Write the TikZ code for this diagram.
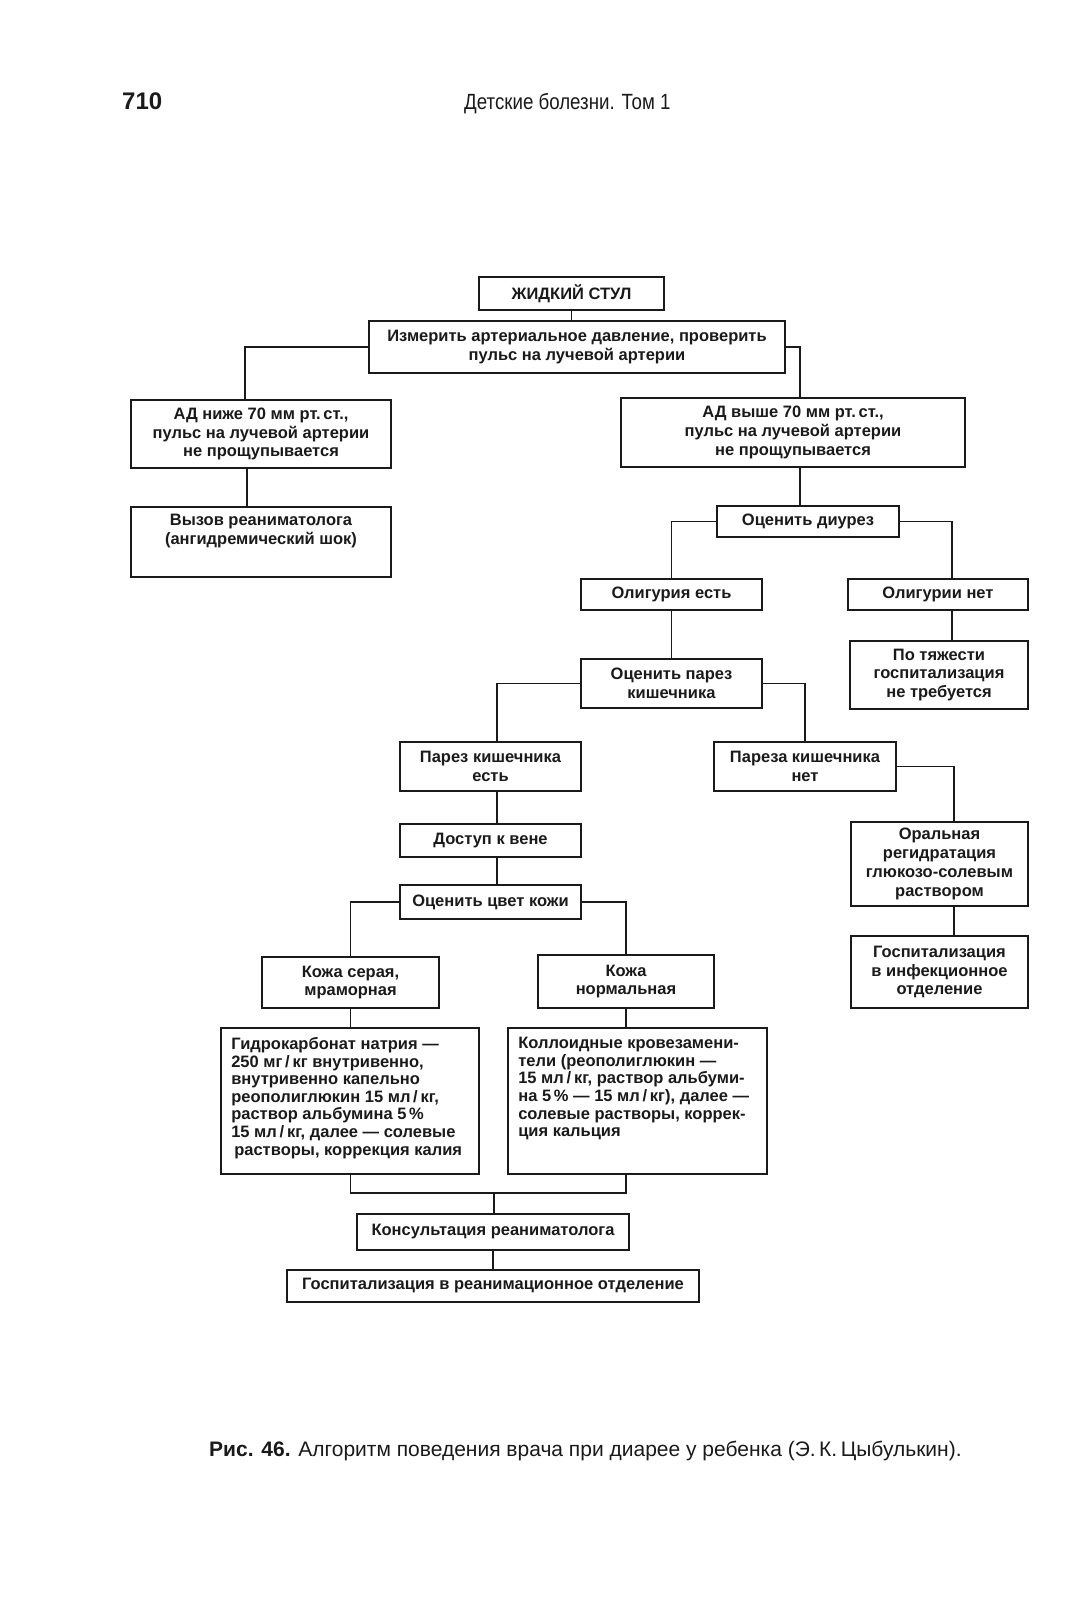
\documentclass[tikz,border=0pt]{standalone}
\usepackage{fontspec}
\setmainfont{Liberation Sans}
\newfontfamily\hdrfont[FakeStretch=0.85]{Liberation Sans}
\usetikzlibrary{calc}
\definecolor{ink}{HTML}{1A1A1A}
\tikzset{
  box/.style={draw=ink, line width=1.8pt, inner sep=0pt, align=center, text=ink,
    font=\fontsize{16.5}{18.8}\selectfont\bfseries},
  txt/.style={inner sep=0pt, text=ink, font=\fontsize{16.5}{18.8}\selectfont\bfseries},
  wire/.style={draw=ink, line width=1.6pt}
}
\newcommand{\flowbox}[6]{%
  \node[box, minimum width={#4-#2}, minimum height={#5-#3}] (#1) at ({(#2+#4)/2},{(#3+#5)/2}) {#6};}
\begin{document}
\begin{tikzpicture}[x=1pt,y=-1pt]
\useasboundingbox[fill=white] (0,0) rectangle (1070,1600);
% header
\node[anchor=base west, inner sep=0pt, text=ink, font=\fontsize{24}{28}\selectfont\bfseries] (pg) at (122,110) {710};
\node[anchor=base west, inner sep=0pt, text=ink, font=\hdrfont\fontsize{22}{26}\selectfont] (ttl) at (464,110) {Детские болезни. Том 1};
% boxes
\flowbox{A}{479}{277}{664}{310}{ЖИДКИЙ СТУЛ}
\flowbox{B}{369}{321}{785}{373}{Измерить артериальное давление, проверить\\пульс на лучевой артерии}
\flowbox{C}{131}{400}{391}{468}{АД ниже 70 мм рт.\,ст.,\\пульс на лучевой артерии\\не прощупывается}
\flowbox{D}{621}{398}{965}{467}{АД выше 70 мм рт.\,ст.,\\пульс на лучевой артерии\\не прощупывается}
\flowbox{E}{131}{507}{391}{577}{}
\node[txt, anchor=north, align=center] (Et) at ($(E.north)+(0,8)$) {Вызов реаниматолога\\(ангидремический шок)};
\flowbox{F}{717}{506}{899}{537}{Оценить диурез}
\flowbox{G}{581}{579}{762}{610}{Олигурия есть}
\flowbox{H}{848}{579}{1028}{610}{Олигурии нет}
\flowbox{I}{850}{641}{1028}{709}{По тяжести\\госпитализация\\не требуется}
\flowbox{J}{581}{659}{762}{708}{Оценить парез\\кишечника}
\flowbox{K}{400}{742}{581}{791}{Парез кишечника\\есть}
\flowbox{L}{714}{742}{896}{791}{Пареза кишечника\\нет}
\flowbox{M}{851}{822}{1028}{906}{Оральная\\регидратация\\глюкозо-солевым\\раствором}
\flowbox{N}{851}{936}{1028}{1008}{Госпитализация\\в инфекционное\\отделение}
\flowbox{O}{400}{824}{581}{857}{Доступ к вене}
\flowbox{P}{400}{885}{581}{919}{Оценить цвет кожи}
\flowbox{Q}{262}{957}{439}{1008}{Кожа серая,\\мраморная}
\flowbox{R}{538}{955}{714}{1008}{Кожа\\нормальная}
\flowbox{S}{221}{1028}{479}{1174}{}
\node[txt, anchor=north west, align=left, font=\fontsize{16.5}{17.6}\selectfont\bfseries] (St) at ($(S.north west)+(11,10)$)
  {Гидрокарбонат натрия —\\250 мг\,/\,кг внутривенно,\\внутривенно капельно\\реополиглюкин 15 мл\,/\,кг,\\раствор альбумина 5\,\%\\15 мл\,/\,кг, далее — солевые\\\hspace{3pt}растворы, коррекция калия};
\flowbox{T}{508}{1028}{767}{1174}{}
\node[txt, anchor=north west, align=left, font=\fontsize{16.5}{17.6}\selectfont\bfseries] (Tt) at ($(T.north west)+(11,10)$)
  {Коллоидные кровезамени-\\тели (реополиглюкин —\\15 мл\,/\,кг, раствор альбуми-\\на 5\,\% — 15 мл\,/\,кг), далее —\\солевые растворы, коррек-\\ция кальция};
\flowbox{U}{357}{1214}{629}{1250}{Консультация реаниматолога}
\flowbox{V}{287}{1270}{699}{1302}{Госпитализация в реанимационное отделение}
% connectors
\draw[wire] (A.south) -- (A.south |- B.north);
\draw[wire] (B.west) -| ([xshift=-16pt]C.north);
\draw[wire] (B.east) -| ([xshift=7pt]D.north);
\draw[wire] ([xshift=-14pt]C.south) -- ([xshift=-14pt]C.south |- E.north);
\draw[wire] ([xshift=7pt]D.south) -- ([xshift=7pt]D.south |- F.north);
\draw[wire] (F.west) -| (G.north);
\draw[wire] (F.east) -| ([xshift=14pt]H.north);
\draw[wire] ([xshift=14pt]H.south) -- ([xshift=14pt]H.south |- I.north);
\draw[wire] (G.south) -- (G.south |- J.north);
\draw[wire] (J.west) -| ([xshift=6.5pt]K.north);
\draw[wire] (J.east) -| (L.north);
\draw[wire] (L.east) -| ([xshift=14.5pt]M.north);
\draw[wire] ([xshift=14.5pt]M.south) -- ([xshift=14.5pt]M.south |- N.north);
\draw[wire] ([xshift=6.5pt]K.south) -- ([xshift=6.5pt]K.south |- O.north);
\draw[wire] ([xshift=6.5pt]O.south) -- ([xshift=6.5pt]O.south |- P.north);
\draw[wire] (P.west) -| (Q.north);
\draw[wire] (P.east) -| (R.north);
\draw[wire] (Q.south) -- (Q.south |- S.north);
\draw[wire] (R.south) -- (R.south |- T.north);
\coordinate (m) at (494,1193);
\draw[wire] (Q.south |- S.south) -- (Q.south |- m) -- (R.south |- m) -- (R.south |- T.south);
\draw[wire] (m) -- (m |- U.north);
\draw[wire] (U.south) -- (U.south |- V.north);
% caption
\node[anchor=base west, inner sep=0pt, text=ink, font=\fontsize{21}{25}\selectfont] (cap) at (209,1456)
  {\textbf{Рис. 46.} Алгоритм поведения врача при диарее у ребенка (Э.\,К.\,Цыбулькин).};
\end{tikzpicture}
\end{document}
